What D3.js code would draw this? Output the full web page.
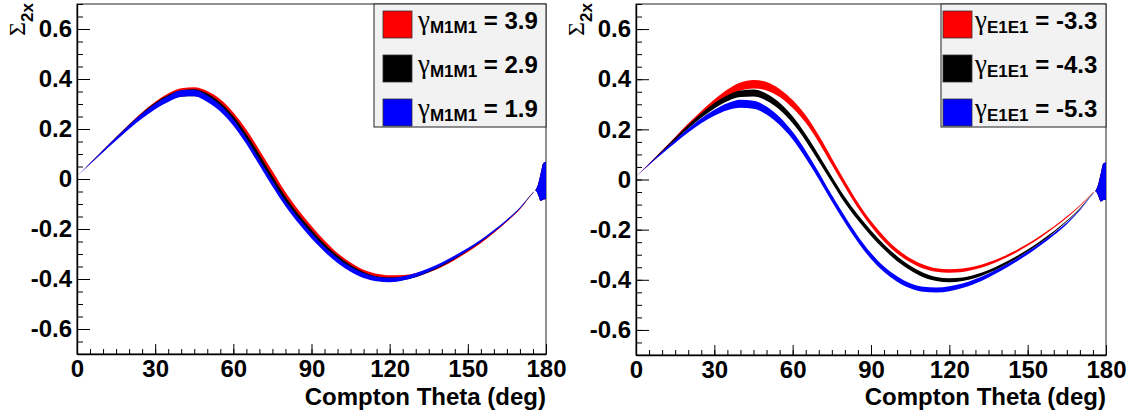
<!DOCTYPE html>
<html>
<head>
<meta charset="utf-8">
<script src="https://cdn.jsdelivr.net/npm/d3@7"></script>
<style>
  body { margin: 0; background: #fff; }
  text { font-family: "Liberation Sans", Arial, sans-serif; font-weight: bold; }
</style>
</head>
<body>
<svg id="chart" width="1133" height="416"></svg>
<script>
// compton angle grid (deg)
const theta = [0, 5, 10, 15, 20, 25, 30, 35, 40, 45, 50, 55, 60, 65, 70, 75, 80, 85, 90, 95,
  100, 105, 110, 115, 120, 125, 130, 135, 140, 145, 150, 155, 160, 165, 170, 175, 176, 177, 178, 179, 180]

// nominal curve (black), same in both panels
const blackMid = [0.012, 0.062, 0.112, 0.162, 0.21, 0.255, 0.294, 0.324, 0.342, 0.345,
  0.328, 0.292, 0.238, 0.167, 0.085, 0.0, -0.082, -0.152, -0.214, -0.269,
  -0.316, -0.353, -0.381, -0.397, -0.402, -0.398, -0.386, -0.367, -0.343, -0.315,
  -0.283, -0.248, -0.209, -0.166, -0.117, -0.055,
  -0.045, -0.042, -0.032, -0.009, -0.006]
const blackErr = [0, 0.001, 0.003, 0.005, 0.007, 0.009, 0.011, 0.012, 0.013, 0.014,
  0.014, 0.014, 0.014, 0.013, 0.013, 0.012, 0.012, 0.011, 0.011, 0.01,
  0.01, 0.009, 0.009, 0.008, 0.008, 0.007, 0.007, 0.006, 0.006, 0.005,
  0.004, 0.004, 0.003, 0.002, 0.002, 0.001,
  0.001, 0.022, 0.056, 0.073, 0.074]

// left panel: gamma_M1M1 = 3.9 (red), 1.9 (blue)
const leftRedMid = [0.012, 0.062, 0.113, 0.163, 0.212, 0.258, 0.298, 0.33, 0.35, 0.353,
  0.338, 0.305, 0.253, 0.185, 0.104, 0.02, -0.063, -0.135, -0.198, -0.256,
  -0.305, -0.343, -0.371, -0.387, -0.392, -0.391, -0.384, -0.368, -0.346, -0.319,
  -0.288, -0.253, -0.213, -0.169, -0.119, -0.056,
  -0.045, -0.042, -0.032, -0.009, -0.006]
const leftRedErr = [0, 0.001, 0.003, 0.005, 0.007, 0.009, 0.011, 0.012, 0.013, 0.014,
  0.014, 0.014, 0.013, 0.013, 0.012, 0.012, 0.011, 0.011, 0.01, 0.01,
  0.009, 0.009, 0.008, 0.008, 0.007, 0.007, 0.007, 0.006, 0.006, 0.005,
  0.004, 0.004, 0.003, 0.002, 0.002, 0.001,
  0.001, 0.022, 0.056, 0.073, 0.074]
const leftBlueMid = [0.012, 0.061, 0.111, 0.16, 0.208, 0.252, 0.29, 0.32, 0.342, 0.344,
  0.321, 0.283, 0.226, 0.152, 0.067, -0.018, -0.098, -0.166, -0.227, -0.281,
  -0.326, -0.361, -0.386, -0.4, -0.404, -0.398, -0.384, -0.364, -0.34, -0.312,
  -0.281, -0.247, -0.208, -0.165, -0.116, -0.055,
  -0.045, -0.042, -0.032, -0.009, -0.006]
const leftBlueErr = [0, 0.002, 0.004, 0.006, 0.008, 0.01, 0.011, 0.012, 0.013, 0.013,
  0.013, 0.013, 0.013, 0.012, 0.012, 0.012, 0.011, 0.011, 0.011, 0.01,
  0.01, 0.01, 0.01, 0.009, 0.009, 0.008, 0.008, 0.007, 0.006, 0.006,
  0.005, 0.004, 0.004, 0.003, 0.002, 0.001,
  0.001, 0.022, 0.056, 0.073, 0.074]

// right panel: gamma_E1E1 = -3.3 (red), -5.3 (blue)
const rightRedMid = [0.012, 0.062, 0.113, 0.164, 0.215, 0.263, 0.307, 0.345, 0.371, 0.38,
  0.372, 0.345, 0.301, 0.241, 0.162, 0.072, -0.018, -0.103, -0.176, -0.237,
  -0.286, -0.322, -0.347, -0.361, -0.365, -0.362, -0.352, -0.336, -0.315, -0.29,
  -0.26, -0.227, -0.19, -0.15, -0.105, -0.053,
  -0.045, -0.042, -0.032, -0.009, -0.006]
const rightRedErr = [0, 0.002, 0.004, 0.006, 0.008, 0.01, 0.012, 0.014, 0.016, 0.017,
  0.017, 0.016, 0.016, 0.015, 0.014, 0.013, 0.012, 0.011, 0.01, 0.01,
  0.009, 0.008, 0.008, 0.007, 0.007, 0.007, 0.006, 0.006, 0.005, 0.005,
  0.004, 0.004, 0.003, 0.003, 0.002, 0.001,
  0.001, 0.022, 0.056, 0.073, 0.074]
const rightBlueMid = [0.012, 0.06, 0.107, 0.152, 0.195, 0.234, 0.266, 0.29, 0.302, 0.298,
  0.275, 0.233, 0.175, 0.1, 0.015, -0.075, -0.16, -0.238, -0.305, -0.358,
  -0.397, -0.424, -0.438, -0.441, -0.436, -0.424, -0.406, -0.383, -0.356, -0.326,
  -0.293, -0.257, -0.218, -0.175, -0.122, -0.058,
  -0.048, -0.042, -0.032, -0.009, -0.006]
const rightBlueErr = [0, 0.002, 0.004, 0.006, 0.008, 0.01, 0.012, 0.014, 0.016, 0.016,
  0.016, 0.016, 0.015, 0.015, 0.014, 0.013, 0.013, 0.012, 0.012, 0.011,
  0.011, 0.01, 0.01, 0.01, 0.01, 0.009, 0.009, 0.008, 0.007, 0.006,
  0.006, 0.005, 0.004, 0.003, 0.002, 0.001,
  0.001, 0.022, 0.056, 0.073, 0.074]

const colors = ["#ff0000", "#000000", "#0000ff"]
const leftLabels = ["3.9", "2.9", "1.9"]
const rightLabels = ["-3.3", "-4.3", "-5.3"]
const xTicks = [0, 30, 60, 90, 120, 150, 180]
const yTicks = [-0.6, -0.4, -0.2, 0, 0.2, 0.4, 0.6]

const svg = d3.select("#chart")

function drawPanel(p) {
  let x = d3.scaleLinear().domain([0, 180]).range([p.x0, p.x1])
  let y = d3.scaleLinear().domain([-0.7, 0.7]).range([p.y1, p.y0])
  let g = svg.append("g")

  //frame
  g.append("rect")
    .attr("x", p.x0).attr("y", p.y0)
    .attr("width", p.x1 - p.x0).attr("height", p.y1 - p.y0)
    .attr("fill", "#fff").attr("stroke", "#222").attr("stroke-width", 1)

  let clipId = "clip" + p.name
  g.append("clipPath").attr("id", clipId)
    .append("rect")
    .attr("x", p.x0).attr("y", p.y0)
    .attr("width", p.x1 - p.x0).attr("height", p.y1 - p.y0)

  //bands: red, black, blue (blue on top)
  let area = d3.area()
    .x(d => x(d.t))
    .y0(d => y(d.m - d.e))
    .y1(d => y(d.m + d.e))
    .curve(d3.curveMonotoneX)

  let bands = g.append("g").attr("clip-path", "url(#" + clipId + ")")
  p.series.forEach((s, i) => {
    let rows = theta.map((t, k) => ({ t: t, m: s.mid[k], e: s.err[k] }))
    bands.append("path")
      .datum(rows)
      .attr("d", area)
      .attr("fill", colors[i])
  })

  //minor ticks
  g.append("g")
    .attr("transform", "translate(0," + p.y1 + ")")
    .call(d3.axisBottom(x).tickValues(d3.range(0, 181, 5)).tickSize(-5).tickSizeOuter(0).tickFormat(""))
    .call(a => a.select(".domain").remove())
  g.append("g")
    .attr("transform", "translate(" + p.x0 + ",0)")
    .call(d3.axisLeft(y).tickValues(d3.range(-0.7, 0.701, 0.05)).tickSize(-6).tickSizeOuter(0).tickFormat(""))
    .call(a => a.select(".domain").remove())

  //major ticks + labels
  let fmt = d => (Math.abs(d) < 1e-9 ? "0" : d.toFixed(1))
  let xa = g.append("g")
    .attr("transform", "translate(0," + p.y1 + ")")
    .call(d3.axisBottom(x).tickValues(xTicks).tickSize(-10).tickSizeOuter(0).tickPadding(6))
  let ya = g.append("g")
    .attr("transform", "translate(" + p.x0 + ",0)")
    .call(d3.axisLeft(y).tickValues(yTicks).tickSize(-13).tickSizeOuter(0).tickPadding(5).tickFormat(fmt))
  ;[xa, ya].forEach(a => {
    a.attr("font-family", null).attr("font-size", null)
    a.selectAll("text").style("font-size", "24px").attr("fill", "#000")
    a.select(".domain").attr("stroke-width", 1.4)
  })

  //axis titles
  g.append("text")
    .attr("x", p.x1).attr("y", 405)
    .attr("text-anchor", "end")
    .style("font-size", "24px")
    .text("Compton Theta (deg)")

  let yt = g.append("text")
    .attr("transform", "translate(" + (p.x0 - 52) + ",3) rotate(-90)")
    .attr("text-anchor", "end")
  yt.append("tspan").text("Σ")
    .style("font-family", "'Liberation Serif', serif").style("font-weight", "normal").style("font-size", "24px")
  yt.append("tspan").text("2x").attr("dy", 8).style("font-size", "17px")

  //legend
  let lg = g.append("g")
  lg.append("rect")
    .attr("x", p.lx).attr("y", p.y0)
    .attr("width", p.x1 - p.lx).attr("height", 123)
    .attr("fill", "#f2f2f2").attr("stroke", "#222").attr("stroke-width", 1)
  p.labels.forEach((lab, i) => {
    lg.append("rect")
      .attr("x", p.lx + p.sqOff).attr("y", 11 + i * 44)
      .attr("width", 29).attr("height", 27)
      .attr("fill", colors[i]).attr("stroke", "#333").attr("stroke-width", 0.8)
    let t = lg.append("text")
      .attr("x", p.lx + p.txtOff).attr("y", 29 + i * 44)
      .style("font-size", "24px")
    t.append("tspan").text("γ")
      .style("font-family", "'Liberation Serif', serif").style("font-weight", "normal").style("font-size", "27px")
    t.append("tspan").text(p.sub).attr("dy", 4).style("font-size", "17px")
    t.append("tspan").text(" = " + lab).attr("dy", -4)
  })
}

drawPanel({
  name: "L", x0: 77, x1: 546, y0: 4, y1: 354, lx: 374, sqOff: 9, txtOff: 44,
  sub: "M1M1", labels: leftLabels,
  series: [
    { mid: leftRedMid, err: leftRedErr },
    { mid: blackMid, err: blackErr },
    { mid: leftBlueMid, err: leftBlueErr },
  ],
})
drawPanel({
  name: "R", x0: 636, x1: 1106, y0: 4, y1: 355, lx: 941, sqOff: 2, txtOff: 34,
  sub: "E1E1", labels: rightLabels,
  series: [
    { mid: rightRedMid, err: rightRedErr },
    { mid: blackMid, err: blackErr },
    { mid: rightBlueMid, err: rightBlueErr },
  ],
})
</script>
</body>
</html>
